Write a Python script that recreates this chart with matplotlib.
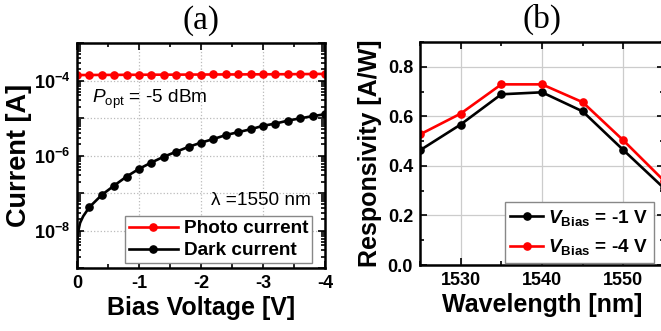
import matplotlib
matplotlib.use("Agg")
import matplotlib.pyplot as plt
from matplotlib.ticker import FixedLocator, FuncFormatter, LogLocator, NullFormatter, MultipleLocator
import numpy as np

plt.rcParams['font.family'] = ['Liberation Sans', 'DejaVu Sans']
plt.rcParams['axes.unicode_minus'] = False
plt.rcParams['mathtext.fontset'] = 'custom'
plt.rcParams['mathtext.rm'] = 'Liberation Sans'
plt.rcParams['mathtext.it'] = 'Liberation Sans:italic'
plt.rcParams['mathtext.bf'] = 'Liberation Sans:bold'
plt.rcParams['mathtext.bfit'] = 'Liberation Sans:italic:bold'

# ---- Panel (a) data ----
photo_v = [0, -0.2, -0.4, -0.6, -0.8, -1.0, -1.2, -1.4, -1.6, -1.8, -2.0,
           -2.2, -2.4, -2.6, -2.8, -3.0, -3.2, -3.4, -3.6, -3.8, -4.0]
photo_i = [1.40e-4, 1.40e-4, 1.41e-4, 1.41e-4, 1.42e-4, 1.42e-4, 1.43e-4,
           1.43e-4, 1.43e-4, 1.44e-4, 1.44e-4, 1.45e-4, 1.45e-4, 1.45e-4,
           1.46e-4, 1.46e-4, 1.47e-4, 1.47e-4, 1.48e-4, 1.49e-4, 1.50e-4]
dark_v = [0, -0.01, -0.05, -0.1, -0.2, -0.4, -0.6, -0.8, -1.0, -1.2, -1.4,
          -1.6, -1.8, -2.0, -2.2, -2.4, -2.6, -2.8, -3.0, -3.2, -3.4, -3.6,
          -3.8, -4.0]
dark_i = [1e-10, 8e-9, 1.6e-8, 2.4e-8, 4.2e-8, 8.9e-8, 1.58e-7, 2.75e-7,
          4.4e-7, 6.5e-7, 9.3e-7, 1.26e-6, 1.7e-6, 2.2e-6, 2.75e-6, 3.5e-6,
          4.2e-6, 5.0e-6, 6.2e-6, 7.1e-6, 8.5e-6, 9.8e-6, 1.12e-5, 1.26e-5]
dark_marked = list(range(4, len(dark_v)))
xticks_a = [0, -1, -2, -3, -4]

# ---- Panel (b) data ----
wavelength = [1525, 1530, 1535, 1540, 1545, 1550, 1555]
resp_1v = [0.463, 0.567, 0.689, 0.697, 0.620, 0.464, 0.31]
resp_4v = [0.527, 0.611, 0.729, 0.729, 0.657, 0.503, 0.34]
xticks_b = [1530, 1540, 1550]
yticks_b = [0.0, 0.2, 0.4, 0.6, 0.8]

W, H = 661, 331
fig = plt.figure(figsize=(W / 100, H / 100), dpi=100)

def px_axes(l, t, r, b):
    return fig.add_axes([l / W, 1 - b / H, (r - l) / W, (b - t) / H])

tick_fs = 13
label_fs = 18
leg_fs = 13.7
lw = 1.9
ms = 5.2

# ---------- (a) ----------
ax1 = px_axes(77, 43, 325, 268)
ax1.plot(photo_v, photo_i, color='#ff0000', lw=lw, marker='o', ms=ms,
         label='Photo current', zorder=3)
ax1.plot(dark_v, dark_i, color='black', lw=lw, marker='o', ms=ms,
         markevery=dark_marked, label='Dark current', zorder=3)
ax1.set_yscale('log')
ax1.set_xlim(0, -4)
ax1.set_ylim(1e-9, 1e-3)
ax1.xaxis.set_major_locator(FixedLocator(xticks_a))
ax1.xaxis.set_minor_locator(MultipleLocator(0.5))
ax1.xaxis.set_major_formatter(FuncFormatter(lambda v, p: f"{v:.0f}" if v != 0 else "0"))
ax1.yaxis.set_major_locator(LogLocator(base=10, numticks=20))
ax1.yaxis.set_minor_locator(LogLocator(base=10, subs=np.arange(2, 10), numticks=20))
ax1.yaxis.set_minor_formatter(NullFormatter())

def logfmt(v, p):
    e = int(round(np.log10(v)))
    if e in (-4, -6, -8):
        return r'$\mathbf{10^{%d}}$' % e
    return ''
ax1.yaxis.set_major_formatter(FuncFormatter(logfmt))
ax1.grid(True, which='major', color='#bbbbbb', linestyle=':', lw=0.9)
ax1.set_xlabel('Bias Voltage [V]', fontsize=label_fs, fontweight='bold', labelpad=3)
ax1.set_ylabel('Current [A]', fontsize=19.5, fontweight='bold', labelpad=1)
ax1.set_title('(a)', family='Liberation Serif', fontsize=24, pad=10)
ax1.text(0.06, 0.75, r'$\mathit{P}_{\rm opt}$ = -5 dBm', transform=ax1.transAxes,
         fontsize=leg_fs, va='center', ha='left')
ax1.text(0.945, 0.30, 'λ =1550 nm', transform=ax1.transAxes,
         fontsize=leg_fs, va='center', ha='right')
leg1 = ax1.legend(loc='lower right', bbox_to_anchor=(0.948, 0.022),
                  borderaxespad=0, prop={'weight': 'bold', 'size': leg_fs},
                  fancybox=False, edgecolor='#888888', framealpha=1,
                  handlelength=2.6, handletextpad=0.3, labelspacing=0.25,
                  borderpad=0.2, numpoints=1)
leg1.get_frame().set_linewidth(1.0)

# ---------- (b) ----------
ax2 = px_axes(420, 42, 664, 265)
ax2.plot(wavelength, resp_1v, color='black', lw=lw, marker='o', ms=ms,
         label=r'$\mathbfit{V}_{\mathbf{Bias}}$ = -1 V', zorder=3)
ax2.plot(wavelength, resp_4v, color='#ff0000', lw=lw, marker='o', ms=ms,
         label=r'$\mathbfit{V}_{\mathbf{Bias}}$ = -4 V', zorder=3)
ax2.set_xlim(1525, 1555)
ax2.set_ylim(0, 0.9)
ax2.xaxis.set_major_locator(FixedLocator(xticks_b))
ax2.xaxis.set_minor_locator(MultipleLocator(5))
ax2.yaxis.set_major_locator(FixedLocator(yticks_b))
ax2.yaxis.set_minor_locator(MultipleLocator(0.1))
ax2.yaxis.set_major_formatter(FuncFormatter(lambda v, p: f"{v:.1f}"))
ax2.grid(True, which='major', color='#cccccc', linestyle='-', lw=0.9)
ax2.set_xlabel('Wavelength [nm]', fontsize=label_fs, fontweight='bold', labelpad=3)
ax2.set_ylabel('Responsivity [A/W]', fontsize=label_fs, fontweight='bold', labelpad=4)
ax2.set_title('(b)', family='Liberation Serif', fontsize=24, pad=10)
leg2 = ax2.legend(loc='lower right', bbox_to_anchor=(0.959, 0.009),
                  borderaxespad=0, prop={'weight': 'bold', 'size': leg_fs},
                  fancybox=False, edgecolor='#888888', framealpha=1,
                  handlelength=1.7, handletextpad=0.3, labelspacing=0.5,
                  borderpad=0.3, numpoints=1)
leg2.get_frame().set_linewidth(1.0)

for ax in (ax1, ax2):
    for s in ax.spines.values():
        s.set_linewidth(1.8)
        s.set_zorder(5)
    ax.tick_params(which='both', direction='in', top=True, right=True,
                   labelsize=tick_fs, width=1.2, pad=5)
    ax.tick_params(which='major', length=5)
    ax.tick_params(which='minor', length=3)
    for lab in ax.get_xticklabels() + ax.get_yticklabels():
        lab.set_fontweight('bold')

fig.savefig('out.png', dpi=100)
